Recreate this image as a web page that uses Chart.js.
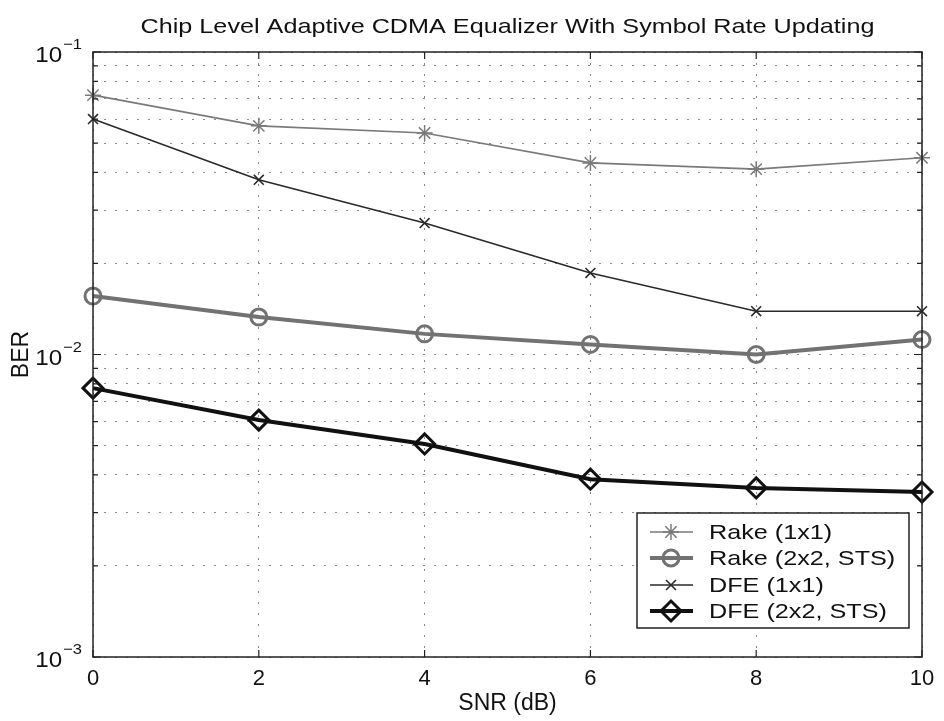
<!DOCTYPE html>
<html><head><meta charset="utf-8">
<script src="https://cdn.jsdelivr.net/npm/chart.js@4/dist/chart.umd.min.js"></script>
<style>html,body{margin:0;padding:0;background:#fff}</style>
</head><body>
<canvas id="c" width="944" height="721"></canvas>
<script>
const chartTitle = 'Chip Level Adaptive CDMA Equalizer With Symbol Rate Updating';
const xTitle = 'SNR (dB)';
const yTitle = 'BER';
const snr = [0, 2, 4, 6, 8, 10];
const rake1x1 = [0.072, 0.057, 0.054, 0.043, 0.041, 0.0447];
const rake2x2 = [0.0156, 0.0133, 0.0117, 0.0108, 0.0100, 0.0112];
const dfe1x1 = [0.060, 0.0378, 0.0272, 0.0186, 0.0139, 0.0139];
const dfe2x2 = [0.00774, 0.00607, 0.00506, 0.00387, 0.00362, 0.00351];
const seriesLabels = ['Rake (1x1)', 'Rake (2x2, STS)', 'DFE (1x1)', 'DFE (2x2, STS)'];
const xTicks = [0, 2, 4, 6, 8, 10];
const yDecades = [-3, -2, -1];

const FONT = '"Liberation Sans", Arial, Helvetica, sans-serif';
const pts = arr => snr.map((x, i) => ({x: x, y: arr[i]}));

const yGridValues = [];
yDecades.forEach(d => {
  if (d === yDecades[yDecades.length - 1]) { yGridValues.push(Math.pow(10, d)); return; }
  for (let m = 1; m <= 9; m++) yGridValues.push(m * Math.pow(10, d));
});

function textScaled(ctx, text, x, y, sx) {
  ctx.save();
  ctx.translate(x, y);
  ctx.scale(sx, 1);
  ctx.fillText(text, 0, 0);
  ctx.restore();
}

const decor = {
  id: 'decor',
  afterDraw(chart) {
    const {ctx, chartArea: a, scales: {x, y}} = chart;
    ctx.save();
    // title
    ctx.fillStyle = '#111';
    ctx.font = '21px ' + FONT;
    ctx.textAlign = 'center';
    ctx.textBaseline = 'alphabetic';
    textScaled(ctx, chartTitle, (a.left + a.right) / 2, 33, 1.2);
    // box
    ctx.strokeStyle = '#222';
    ctx.lineWidth = 1.5;
    ctx.setLineDash([]);
    ctx.strokeRect(a.left, a.top, a.right - a.left, a.bottom - a.top);
    // inward ticks
    ctx.beginPath();
    xTicks.forEach(v => {
      const px = x.getPixelForValue(v);
      ctx.moveTo(px, a.bottom); ctx.lineTo(px, a.bottom - 7);
      ctx.moveTo(px, a.top); ctx.lineTo(px, a.top + 7);
    });
    y.ticks.forEach(t => {
      const py = y.getPixelForValue(t.value);
      const lg = Math.log10(t.value);
      const L = Math.abs(lg - Math.round(lg)) < 1e-9 ? 8 : 5;
      ctx.moveTo(a.left, py); ctx.lineTo(a.left + L, py);
      ctx.moveTo(a.right, py); ctx.lineTo(a.right - L, py);
    });
    ctx.lineWidth = 1.2;
    ctx.stroke();
    // y tick labels with superscripts
    yDecades.forEach(d => {
      const py = y.getPixelForValue(Math.pow(10, d));
      ctx.fillStyle = '#111';
      ctx.textAlign = 'left';
      ctx.textBaseline = 'alphabetic';
      ctx.font = '15px ' + FONT;
      const sup = '\u2212' + Math.abs(d);
      const sw = ctx.measureText(sup).width * 1.1;
      ctx.font = '22px ' + FONT;
      const bw = ctx.measureText('10').width * 1.1;
      const right = a.left - 11;
      const sx = right - sw;
      const bx = sx - bw - 1;
      textScaled(ctx, '10', bx, py + 10, 1.1);
      ctx.font = '15px ' + FONT;
      textScaled(ctx, sup, sx, py - 3, 1.1);
    });
    // legend
    const lx = 637, ly = 513, lw = 272, lh = 115;
    ctx.fillStyle = '#fff';
    ctx.fillRect(lx, ly, lw, lh);
    ctx.strokeStyle = '#222';
    ctx.lineWidth = 1.5;
    ctx.strokeRect(lx, ly, lw, lh);
    const rowY = [532, 558, 585, 611];
    chart.data.datasets.forEach((ds, i) => {
      const cy = rowY[i];
      ctx.strokeStyle = ds.borderColor;
      ctx.lineWidth = ds.borderWidth;
      ctx.setLineDash([]);
      ctx.beginPath();
      ctx.moveTo(650, cy); ctx.lineTo(693, cy);
      ctx.stroke();
      ctx.strokeStyle = ds.pointBorderColor;
      ctx.fillStyle = 'rgba(0,0,0,0)';
      ctx.lineWidth = ds.pointBorderWidth;
      Chart.helpers.drawPoint(ctx, {pointStyle: ds.pointStyle, radius: ds.pointRadius, rotation: 0, borderWidth: ds.pointBorderWidth}, 671, cy);
      ctx.fillStyle = '#111';
      ctx.font = '21px ' + FONT;
      ctx.textAlign = 'left';
      ctx.textBaseline = 'middle';
      textScaled(ctx, ds.label, 709, cy + 1, 1.2);
    });
    ctx.restore();
  }
};

const mk = (label, arr, color, width, style, radius, pbw) => ({
  label: label, data: pts(arr), borderColor: color, borderWidth: width,
  pointStyle: style, pointRadius: radius, pointHoverRadius: radius,
  pointBorderColor: color, pointBackgroundColor: 'rgba(0,0,0,0)', pointBorderWidth: pbw,
  tension: 0, clip: false, fill: false
});

new Chart(document.getElementById('c'), {
  type: 'line',
  data: {
    datasets: [
      mk(seriesLabels[0], rake1x1, '#7a7a7a', 1.6, 'star', 8, 1.5),
      mk(seriesLabels[1], rake2x2, '#727272', 4, 'circle', 8, 3),
      mk(seriesLabels[2], dfe1x1, '#2a2a2a', 1.6, 'crossRot', 7, 1.6),
      mk(seriesLabels[3], dfe2x2, '#111111', 4, 'rectRot', 10, 3)
    ]
  },
  options: {
    responsive: false,
    animation: false,
    events: [],
    layout: {padding: {top: 52, right: 22, left: 0, bottom: 0}},
    plugins: {legend: {display: false}, title: {display: false}, tooltip: {enabled: false}},
    scales: {
      x: {
        type: 'linear', min: 0, max: 10,
        afterBuildTicks: s => { s.ticks = xTicks.map(v => ({value: v})); },
        afterFit: s => { s.height = 64; },
        grid: {color: '#8a8a8a', lineWidth: 1, drawTicks: false},
        border: {display: false, dash: [2, 9]},
        ticks: {padding: 9, color: '#111', font: {size: 22, family: FONT}, maxRotation: 0},
        title: {display: true, text: xTitle, color: '#111', font: {size: 23, family: FONT}, padding: {top: 0, bottom: 4}}
      },
      y: {
        type: 'logarithmic', min: 0.001, max: 0.1,
        afterBuildTicks: s => { s.ticks = yGridValues.map(v => ({value: v})); },
        afterFit: s => { s.width = 93; },
        grid: {color: '#8a8a8a', lineWidth: 1, drawTicks: false},
        border: {display: false, dash: [2, 9]},
        ticks: {display: false},
        title: {display: true, text: yTitle, color: '#111', font: {size: 23, family: FONT}, padding: {top: 8, bottom: 0}}
      }
    }
  },
  plugins: [decor]
});
</script>
</body></html>
